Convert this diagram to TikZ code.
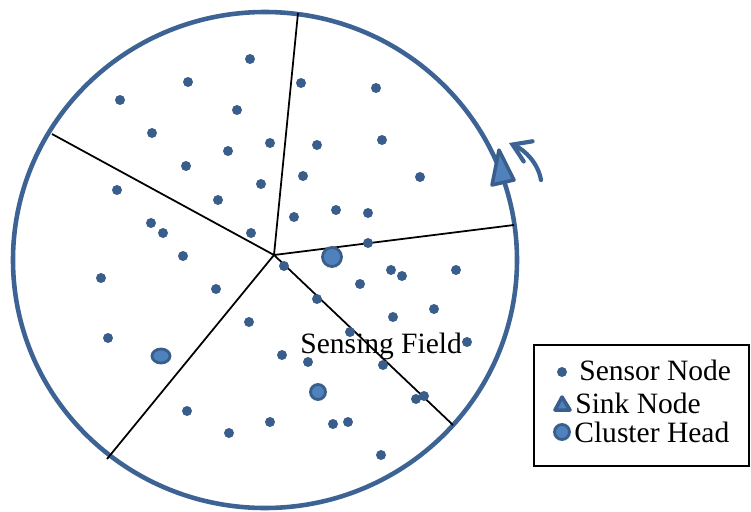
\documentclass[tikz,border=0pt]{standalone}
\usepackage{fontspec}
\setmainfont{Liberation Serif}
\usetikzlibrary{positioning, arrows.meta, shapes.geometric}

\definecolor{nodeblue}{RGB}{58,94,140}
\definecolor{headblue}{RGB}{79,129,189}
\definecolor{ringblue}{RGB}{61,99,148}

\tikzset{
  sensor/.style={circle, fill=nodeblue, inner sep=0pt, minimum size=2mm},
  head/.style={circle, fill=headblue, draw=nodeblue, line width=1.6pt, inner sep=0pt, minimum size=#1},
  head/.default=3mm,
  sinkmark/.style={fill=headblue, draw=nodeblue, line width=2pt, line join=round},
  border/.style={line width=1pt, black},
  label/.style={font=\fontsize{16.8}{20}\selectfont, inner sep=0pt, anchor=base west}
}

\begin{document}
\begin{tikzpicture}[x=0.02cm, y=-0.02cm]
        \useasboundingbox (0,0) rectangle (751,511);
        % sensing field
        \draw[ringblue, line width=2.6pt] (265,260) ellipse [x radius=252, y radius=248];
        \coordinate (ctr) at (274,255);
        \coordinate (e1) at (52,134);
        \coordinate (e2) at (298,13);
        \coordinate (e3) at (514,225);
        \coordinate (e4) at (453,425);
        \coordinate (e5) at (107,459);
        \foreach \e in {e1,e2,e3,e4,e5}
          \draw[border] (ctr) -- (\e);

        % sensor nodes
        \foreach \x/\y [count=\i] in {250/59, 188/82, 120/100, 237/110, 152/133, 270/143, 228/151,
            186/166, 261/184, 218/200, 251/233, 301/83, 376/88, 317/145, 382/140, 303/176,
            420/177, 294/217, 336/210, 368/213, 368/243, 117/190, 151/223, 163/233, 183/256,
            101/278, 216/289, 108/338, 284/266, 391/270, 402/276, 456/270, 360/284, 317/299,
            434/309, 393/317, 467/342, 383/365, 416/399, 424/396, 249/322, 350/332, 282/355,
            308/362, 187/411, 229/433, 270/422, 333/424, 348/422, 381/455}
          \node[sensor] (s\i) at (\x,\y) {};

        % cluster heads
        \node[head=3.8mm] (ch1) at (332,257) {};
        \node[head, ellipse, minimum width=3.6mm, minimum height=2.8mm] (ch2) at (161,356) {};
        \node[head] (ch3) at (318,392) {};

        % sink and its motion
        \filldraw[sinkmark] (499,150) -- (492,185) -- (514,180) -- cycle;
        \coordinate (mv0) at (541,180);
        \coordinate (mv1) at (509,143);
        \draw[ringblue, line width=2.4pt, line cap=round,
              -{Straight Barb[length=3.4mm, width=4.4mm, line cap=round]}]
          (mv0) .. controls (538,163) and (525,150) .. (mv1);

        \node[label] (field) at (300,353) {Sensing Field};

        % legend
        \draw[line width=0.6pt] (534,345) rectangle (749,466);
        \node[sensor] (lg1) at (562,372) {};
        \filldraw[sinkmark] (562,397) -- (555,410) -- (570,410) -- cycle;
        \node[head] (lg3) at (562,432) {};
        \node[label] (t1) at (579,380) {Sensor Node};
        \node[label] (t2) at (575,413) {Sink Node};
        \node[label] (t3) at (574,442) {Cluster Head};
      \end{tikzpicture}
\end{document}
